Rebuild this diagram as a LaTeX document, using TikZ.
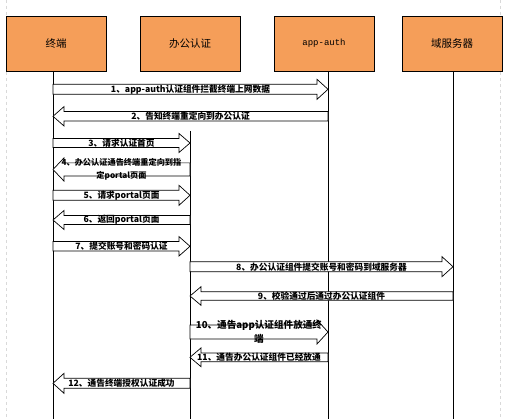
\documentclass[tikz,border=0pt]{standalone}
\usepackage{fontspec}
\setmainfont{Liberation Serif}
\newfontfamily\cjk{Noto Sans CJK SC}
\newfontfamily\monof{Liberation Mono}
\usetikzlibrary{calc}
\definecolor{boxorange}{RGB}{245,158,89}
\tikzset{
  actor/.style={draw=black, line width=0.9pt, fill=boxorange, minimum width=100pt,
    minimum height=55pt, inner sep=0pt, font=\cjk\fontsize{10.5}{12}\selectfont},
  lifeline/.style={draw=black, line width=0.8pt},
  blk/.style={draw=black, line width=0.7pt, fill=white, line join=miter},
  lbl/.style={font=\cjk\bfseries\fontsize{8.7}{13.5}\selectfont, inner sep=0pt, align=center},
  pageframe/.style={draw=black!15, dashed, line width=0.6pt}
}
% [#1 label style], #2 from, #3 to, #4 y centre, #5 shaft half height, #6 label
\newcommand\msgarrow[6][]{%
  \draw[blk] let \p1=(#2), \p2=(#3), \p3=($(#3)!11pt!(#2)$) in
    (\x1,#4+#5) -- (\x3,#4+#5) -- (\x3,#4+#5+5pt) -- (\x2,#4)
    -- (\x3,#4-#5-5pt) -- (\x3,#4-#5) -- (\x1,#4-#5) -- cycle
    ({(\x1+\x2)/2},#4) node[lbl,#1] {#6};
}
\begin{document}
\begin{tikzpicture}[x=1pt,y=1pt]
\useasboundingbox (0,0) rectangle (513,-419);
\fill[white] (0,0) rectangle (513,-419);
\coordinate (f1) at (6,0);
\coordinate (f2) at (6,-419);
\coordinate (f3) at (500,0);
\coordinate (f4) at (500,-419);
\draw[pageframe] (f1) -- (f2);
\draw[pageframe] (f3) -- (f4);

\node[actor] (t) at (56,-43.5) {终端};
\node[actor] (o) at (190,-43.5) {办公认证};
\node[actor] (a) at (324,-43.5) {\monof\fontsize{9}{11}\selectfont app-auth};
\node[actor] (d) at (452,-43.5) {域服务器};

\coordinate (l1) at (53,-419);
\coordinate (l2) at (190,-419);
\coordinate (l3) at (328,-419);
\coordinate (l4) at (453,-419);
\coordinate (l2top) at (190,-131);

\draw[lifeline] (t.south -| l1) -- (l1);
\draw[lifeline] (l2top) -- (l2);
\draw[lifeline] (a.south -| l3) -- (l3);
\draw[lifeline] (d.south -| l4) -- (l4);

\msgarrow{l1}{l3}{-89.3pt}{5pt}{1、app-auth认证组件拦截终端上网数据}
\msgarrow{l3}{l1}{-116.3pt}{4.7pt}{2、告知终端重定向到办公认证}
\msgarrow{l1}{l2}{-143pt}{4.5pt}{3、请求认证首页}
\msgarrow[font=\cjk\bfseries\fontsize{8.2}{13.5}\selectfont]{l2}{l1}{-169.5pt}{6.6pt}{4、办公认证通告终端重定向到指\\定portal页面}
\msgarrow{l1}{l2}{-195.3pt}{5pt}{5、请求portal页面}
\msgarrow{l2}{l1}{-220pt}{4.5pt}{6、返回portal页面}
\msgarrow{l1}{l2}{-246.3pt}{4.7pt}{7、提交账号和密码认证}
\msgarrow{l2}{l4}{-266.7pt}{5pt}{8、办公认证组件提交账号和密码到域服务器}
\msgarrow{l4}{l2}{-296pt}{4.3pt}{9、校验通过后通过办公认证组件}
\msgarrow[font=\cjk\bfseries\fontsize{9.6}{14}\selectfont]{l2}{l3}{-332pt}{7pt}{10、通告app认证组件放通终\\端}
\msgarrow{l3}{l2}{-357.3pt}{4.4pt}{11、通告办公认证组件已经放通}
\msgarrow{l2}{l1}{-383.3pt}{5pt}{12、通告终端授权认证成功}
\end{tikzpicture}
\end{document}
